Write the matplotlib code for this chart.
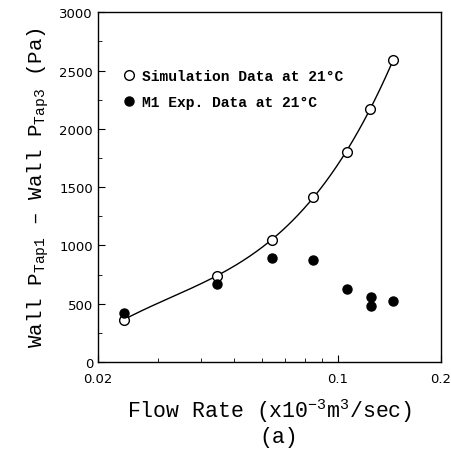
import numpy as np
import matplotlib
matplotlib.use('Agg')
from matplotlib import pyplot as plt
from matplotlib.ticker import FixedLocator, NullFormatter, MultipleLocator

# simulation data (open circles)
sim_q = [0.0238, 0.0445, 0.0643, 0.0847, 0.1064, 0.1242, 0.1450]
sim_dp = [363, 740, 1048, 1417, 1803, 2174, 2589]

# M1 experimental data (filled circles)
exp_q = [0.0238, 0.0445, 0.0643, 0.0847, 0.1064, 0.1250, 0.1250, 0.1450]
exp_dp = [417, 669, 894, 874, 626, 560, 483, 526]

x_ticks = [0.02, 0.1, 0.2]
x_ticklabels = ['0.02', '0.1', '0.2']


def main():
    mono = 'Liberation Mono'
    plt.rcParams['mathtext.fontset'] = 'custom'
    plt.rcParams['mathtext.rm'] = mono
    plt.rcParams['mathtext.it'] = mono
    fig = plt.figure(figsize=(4.51, 4.56), dpi=100)
    ax = fig.add_axes([0.217, 0.204, 0.761, 0.767])

    # smooth trend through the simulation points (cubic in log q)
    lq = np.log10(sim_q)
    coef = np.polyfit(lq, sim_dp, 3)
    qq = np.logspace(lq[0], lq[-1], 200)
    ax.plot(qq, np.polyval(coef, np.log10(qq)), color='k', lw=1.0)

    ax.plot(sim_q, sim_dp, 'o', mfc='white', mec='k', ms=7, mew=1.0,
            label='Simulation Data at 21\u00b0C')
    ax.plot(exp_q, exp_dp, 'o', mfc='k', mec='k', ms=6.5,
            label='M1 Exp. Data at 21\u00b0C')

    ax.set_xscale('log')
    ax.set_xlim(0.02, 0.2)
    ax.set_ylim(0, 3000)
    ax.xaxis.set_major_locator(FixedLocator(x_ticks))
    ax.set_xticklabels(x_ticklabels)
    ax.xaxis.set_minor_locator(FixedLocator([0.03, 0.04, 0.05, 0.06, 0.07, 0.08, 0.09]))
    ax.xaxis.set_minor_formatter(NullFormatter())
    ax.yaxis.set_major_locator(MultipleLocator(500))
    ax.yaxis.set_minor_locator(MultipleLocator(250))

    ax.tick_params(which='both', direction='in', top=False, right=False,
                   labelsize=9.5)
    ax.tick_params(which='major', length=5)
    ax.tick_params(which='minor', length=3)
    ax.tick_params(axis='x', pad=7)
    for sp in ax.spines.values():
        sp.set_linewidth(1.0)

    ax.legend(loc='upper left', bbox_to_anchor=(0.03, 0.874), frameon=False,
              prop={'family': mono, 'size': 10.5, 'weight': 'bold'},
              handletextpad=0.4, labelspacing=0.8, handlelength=1.0)

    ax.set_xlabel('Flow Rate (x10$^{-3}$m$^{3}$/sec)', fontfamily=mono, fontsize=15.5,
                  labelpad=8)
    ax.set_ylabel('Wall P$_{\\mathrm{Tap1}}$ \u2013 Wall P$_{\\mathrm{Tap3}}$ (Pa)',
                  fontfamily=mono, fontsize=15, labelpad=6)
    fig.text(0.617, 0.028, '(a)', fontfamily=mono, fontsize=15.5, ha='center')

    plt.savefig('out.png', dpi=100)


if __name__ == '__main__':
    main()
